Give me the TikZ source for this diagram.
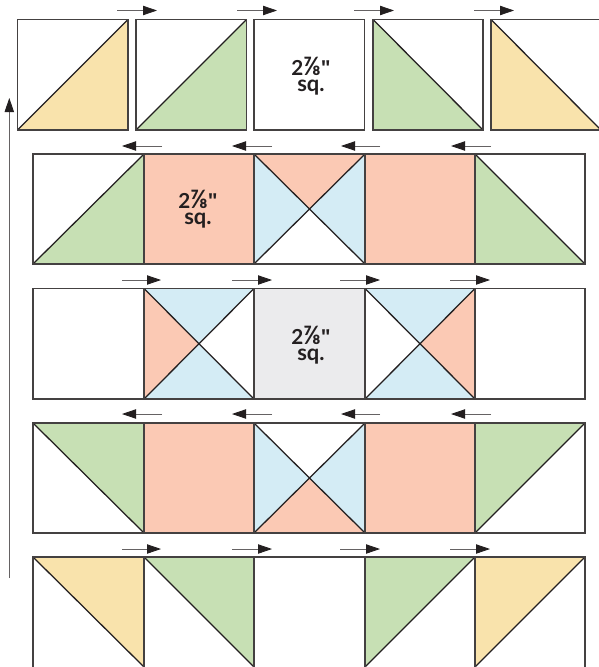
\documentclass[tikz,border=0pt]{standalone}
\usepackage{fontspec}
\setmainfont{Lato}
\newfontfamily\quotefont{Open Sans}
\usetikzlibrary{arrows.meta}
\definecolor{ink}{HTML}{231F20}
\definecolor{yel}{HTML}{F9E3AC}
\definecolor{grn}{HTML}{C7E0B4}
\definecolor{sal}{HTML}{FBC9B4}
\definecolor{blu}{HTML}{D4ECF5}
\definecolor{gry}{HTML}{EBEBED}
\tikzset{
  x=0.75pt,y=-0.75pt,
  patch/.style={draw=ink!85,line width=0.95pt,line join=miter},
  seam/.style={draw=ink,line width=0.95pt,line cap=round},
  flow/.style={draw=ink!70,line width=0.6pt,-{Triangle[length=10.5pt,width=7pt,color=ink]}},
  size/.style={font=\bfseries\fontsize{15.5pt}{12pt}\selectfont,text=ink,align=center,inner sep=0pt}
}
\newcommand{\sizelabel}{2{\fontsize{19pt}{12pt}\selectfont\char"215E}{\quotefont\char"22}\\\fontsize{16.5pt}{12pt}\selectfont sq.}
% #1 x0, #2 y0, #3 x1, #4 y1, #5 fill
\newcommand{\sq}[5]{\path[patch,fill=#5] (#1,#2) rectangle (#3,#4);}
\newcommand{\hg}[9]{%
 \fill[#5] (#1,#2)--(#3,#2)--({(#1+#3)/2},{(#2+#4)/2})--cycle;
 \fill[#6] (#1,#4)--(#3,#4)--({(#1+#3)/2},{(#2+#4)/2})--cycle;
 \fill[#7] (#1,#2)--(#1,#4)--({(#1+#3)/2},{(#2+#4)/2})--cycle;
 \fill[#8] (#3,#2)--(#3,#4)--({(#1+#3)/2},{(#2+#4)/2})--cycle;
 \draw[seam] (#1,#2)--(#3,#4) (#3,#2)--(#1,#4);
 \path[patch] (#1,#2) rectangle (#3,#4);}
\newcommand{\tri}[7]{\fill[#7] (#1,#2)--(#3,#4)--(#5,#6)--cycle; \draw[seam] (#1,#2)--(#3,#4);}
\begin{document}
\begin{tikzpicture}
\useasboundingbox (0,0) rectangle (599,667);
\clip (0,0) rectangle (599,667);
\fill[white] (0,0) rectangle (599,667);
% row 1
\tri{17.5}{130}{128}{19.5}{128}{130}{yel}
\path[patch] (17.5,19.5) rectangle (128,130);
\tri{136}{130}{246.5}{19.5}{246.5}{130}{grn}
\path[patch] (136,19.5) rectangle (246.5,130);
\path[patch] (254,19.5) rectangle (364.5,130);
\tri{373}{19.5}{483}{130}{373}{130}{grn}
\path[patch] (373,19.5) rectangle (483,130);
\tri{491}{19.5}{601}{130}{491}{130}{yel}
\path[patch] (491,19.5) rectangle (601,130);
% row 2
\tri{33}{264}{144}{154}{144}{264}{grn}
\path[patch] (33,154) rectangle (144,264);
\sq{144}{154}{254}{264}{sal}
\hg{254}{154}{365}{264}{sal}{white}{blu}{blu}{}
\sq{365}{154}{475}{264}{sal}
\tri{475}{154}{585}{264}{475}{264}{grn}
\path[patch] (475,154) rectangle (585,264);
% row 3
\path[patch] (33,288.5) rectangle (144,399);
\hg{144}{288.5}{254}{399}{blu}{blu}{sal}{white}{}
\sq{254}{288.5}{365}{399}{gry}
\hg{365}{288.5}{475}{399}{blu}{blu}{white}{sal}{}
\path[patch] (475,288.5) rectangle (585,399);
% row 4
\tri{33}{423}{144}{533}{144}{423}{grn}
\path[patch] (33,423) rectangle (144,533);
\sq{144}{423}{254}{533}{sal}
\hg{254}{423}{365}{533}{white}{sal}{blu}{blu}{}
\sq{365}{423}{475}{533}{sal}
\tri{585}{423}{475}{533}{475}{423}{grn}
\path[patch] (475,423) rectangle (585,533);
% row 5 (its lower edge lies beyond the page)
\tri{33}{557}{144}{667}{144}{557}{yel}
\path[patch] (33,557) rectangle (144,671);
\tri{144}{557}{254}{667}{254}{557}{grn}
\path[patch] (144,557) rectangle (254,671);
\path[patch] (254,557) rectangle (365,671);
\tri{475}{557}{365}{667}{365}{557}{grn}
\path[patch] (365,557) rectangle (475,671);
\tri{585}{557}{475}{667}{475}{557}{yel}
\path[patch] (475,557) rectangle (585,671);
% labels
\node[size] (labelA) at (311,76) {\sizelabel};
\node[size] (labelB) at (198,209.5) {\sizelabel};
\node[size] (labelC) at (311,345) {\sizelabel};
% press arrows
\foreach \a/\b in {117/157,237/277,354/394,474/514} \draw[flow] (\a,10.5)--(\b,10.5);
\foreach \a/\b in {162/122,272/232,380/341,491/451} \draw[flow] (\a,146)--(\b,146);
\foreach \a/\b in {122/161,232/272,340/380,450/490} \draw[flow] (\a,280)--(\b,280);
\foreach \a/\b in {162/122,272/232,380/341,491/451} \draw[flow] (\a,414)--(\b,414);
\foreach \a/\b in {122/161,232/272,340/380,450/490} \draw[flow] (\a,549)--(\b,549);
\draw[flow] (9.3,578)--(9.3,98);
\end{tikzpicture}
\end{document}
